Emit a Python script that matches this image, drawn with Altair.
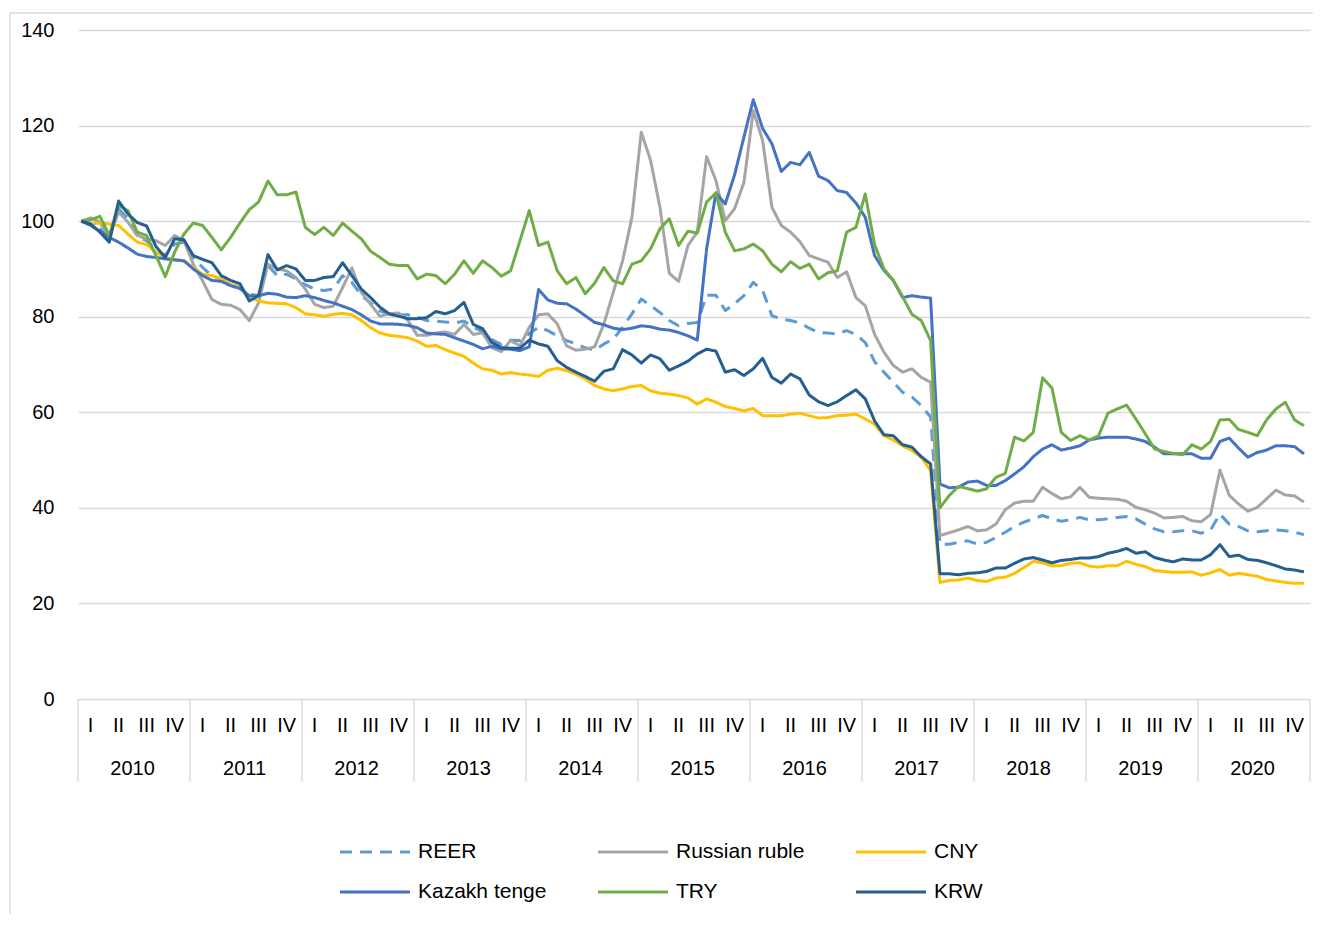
import altair as alt
import pandas as pd

# ---------------- data (monthly index, Jan 2010 = 100) ----------------
years = [str(y) for y in range(2010, 2021)]
quarters = ["I", "II", "III", "IV"]
series_names = ["REER", "Russian ruble", "CNY", "Kazakh tenge", "TRY", "KRW"]
series_colors = ["#5B9BD5", "#A5A5A5", "#FFC000", "#4472C4", "#70AD47", "#255E91"]
series_dashes = [[12, 8], [1, 0], [1, 0], [1, 0], [1, 0], [1, 0]]

reer = [
    100, 99.4, 98.4, 97.0, 102.6, 100.5, 96.8, 95.9, 94.0, 92.8, 95.2, 95.6, 92.4, 90.3, 88.6, 87.9, 86.8, 86.1, 84.7, 84.4, 90.7, 88.6, 88.9,
    87.9, 86.7, 85.8, 85.5, 85.8, 88.6, 87.2, 84.4, 82.9, 81.2, 80.6, 80.4, 80.4, 79.9, 79.2, 79.1, 78.9, 78.7, 79.1, 77.8, 76.9, 75.2, 74.2,
    75.1, 75.0, 76.5, 77.8, 77.1, 76.0, 75.0, 74.3, 73.5, 73.0, 74.3, 75.3, 77.8, 80.6, 83.7, 82.3, 80.9, 79.2, 78.1, 78.6, 78.8, 84.5,
    84.5, 81.3, 82.7, 84.4, 87.2, 85.5, 80.2, 79.5, 79.2, 78.7, 77.6, 76.7, 76.6, 76.4, 77.1, 76.3, 74.6, 70.6,
    68.4, 66.3, 64.2, 63.2, 61.4, 59.0, 32.4, 32.4, 32.8, 33.1, 32.4, 32.8, 33.8, 34.9, 36.1, 37.0,
    37.7, 38.4, 37.7, 37.2, 37.5, 38.0, 37.5, 37.5, 37.7, 38.0, 38.2, 37.7, 36.6, 35.6, 35.0, 35.0, 35.2, 35.2, 34.7, 35.4,
    38.7, 36.6, 36.1, 35.2, 35.0, 35.2, 35.4, 35.2, 34.9, 34.4,
]

ruble = [
    100, 100.7, 99.8, 96.6, 101.9, 99.8, 97.0, 96.3, 95.9, 94.9, 97.0, 95.9, 91.0, 87.5, 83.6, 82.6, 82.4, 81.5, 79.2, 82.9, 91.0, 90.0, 89.6,
    88.2, 85.8, 82.6, 81.9, 82.2, 86.1, 90.2, 85.1, 82.6, 80.1, 80.6, 80.8, 79.2, 76.1, 76.1, 76.6, 76.8, 76.3, 78.4, 76.3, 76.6, 73.5, 72.7,
    75.0, 73.9, 77.8, 80.4, 80.6, 78.5, 73.9, 73.0, 73.2, 73.7, 78.5, 85.1, 91.7, 100.8, 118.6, 112.7, 102.9, 89.1, 87.4, 94.9, 97.7, 113.5,
    108.5, 100.1, 102.6, 108.1, 123.1, 116.9, 102.9, 99.1, 97.7, 95.7, 92.8, 92.1, 91.4, 88.2, 89.4, 84.0, 82.3, 76.3,
    72.6, 69.8, 68.4, 69.1, 67.3, 66.3, 34.2, 34.8, 35.4, 36.1, 35.2, 35.4, 36.6, 39.6, 41.0, 41.4,
    41.4, 44.3, 43.0, 41.9, 42.3, 44.3, 42.2, 42.0, 41.9, 41.8, 41.4, 40.1, 39.6, 38.9, 37.9, 38.0, 38.2, 37.3, 37.1, 38.6,
    47.9, 42.6, 40.8, 39.3, 40.1, 41.9, 43.7, 42.7, 42.5, 41.2,
]

cny = [
    100, 99.4, 99.6, 99.4, 99.1, 97.3, 95.6, 95.1, 93.5, 92.4, 91.9, 91.7, 90.3, 88.9, 88.6, 87.9, 86.8, 86.1, 84.1, 83.3, 82.9, 82.8, 82.7,
    81.9, 80.6, 80.4, 80.1, 80.5, 80.7, 80.4, 79.2, 77.7, 76.6, 76.1, 75.9, 75.6, 74.9, 73.8, 74.0, 73.1, 72.4, 71.7, 70.3, 69.1, 68.8, 68.0,
    68.3, 68.0, 67.8, 67.5, 68.8, 69.2, 68.7, 68.0, 67.0, 65.6, 64.9, 64.5, 64.9, 65.4, 65.6, 64.5, 64.0, 63.8, 63.5, 63.0, 61.7, 62.8,
    62.1, 61.2, 60.8, 60.3, 60.8, 59.3, 59.3, 59.3, 59.6, 59.8, 59.3, 58.8, 58.9, 59.3, 59.4, 59.6, 58.6, 57.5,
    55.1, 54.2, 53.0, 52.0, 50.6, 47.8, 24.4, 24.8, 24.9, 25.3, 24.8, 24.6, 25.3, 25.5, 26.3, 27.5,
    28.8, 28.5, 27.9, 27.9, 28.4, 28.5, 27.8, 27.6, 27.9, 27.9, 28.8, 28.2, 27.7, 26.9, 26.7, 26.5, 26.5, 26.6, 25.9, 26.4,
    27.1, 25.9, 26.3, 26.0, 25.7, 25.0, 24.7, 24.4, 24.2, 24.2,
]

tenge = [
    100, 99.1, 97.9, 96.6, 95.6, 94.4, 93.1, 92.6, 92.4, 92.1, 91.9, 91.7, 90.0, 88.6, 87.6, 87.4, 86.5, 85.9, 84.4, 84.4, 84.9, 84.7, 84.1,
    84.0, 84.4, 84.0, 83.4, 82.9, 82.2, 81.5, 80.4, 79.1, 78.5, 78.5, 78.4, 78.2, 77.7, 76.6, 76.4, 76.3, 75.6, 74.9, 74.2, 73.3, 73.8, 73.3,
    73.2, 72.9, 73.7, 85.7, 83.5, 82.8, 82.7, 81.6, 80.2, 78.8, 78.3, 77.6, 77.3, 77.6, 78.1, 77.9, 77.4, 77.2, 76.7, 76.0, 75.1, 94.2,
    105.9, 103.6, 109.7, 117.6, 125.4, 119.4, 116.2, 110.4, 112.3, 111.8, 114.4, 109.4, 108.5, 106.4, 106.0, 103.8, 100.8, 92.8,
    89.7, 87.6, 84.0, 84.4, 84.1, 83.9, 45.0, 44.2, 44.3, 45.4, 45.6, 44.7, 44.7, 45.7, 47.1, 48.6,
    50.7, 52.3, 53.2, 52.1, 52.5, 53.0, 54.2, 54.6, 54.8, 54.8, 54.8, 54.4, 53.9, 52.7, 51.3, 51.3, 51.3, 51.3, 50.4, 50.4,
    53.9, 54.6, 52.5, 50.6, 51.6, 52.1, 53.0, 53.0, 52.8, 51.3,
]

lira = [
    100, 100.3, 101.0, 97.0, 103.3, 102.2, 97.7, 97.0, 92.8, 88.4, 93.5, 97.3, 99.6, 99.1, 96.6, 94.0, 96.6, 99.6, 102.4, 104.0, 108.4, 105.5, 105.5,
    106.1, 98.7, 97.2, 98.7, 97.0, 99.6, 97.9, 96.3, 93.7, 92.4, 91.0, 90.7, 90.7, 87.9, 88.9, 88.6, 86.9, 88.9, 91.7, 89.1, 91.7, 90.3, 88.5,
    89.6, 95.9, 102.2, 94.9, 95.6, 89.6, 86.9, 88.2, 84.8, 87.0, 90.3, 87.5, 86.9, 91.0, 91.7, 94.2, 98.4, 100.5, 94.9, 97.9, 97.5, 104.0,
    105.9, 97.7, 93.8, 94.2, 95.2, 93.8, 91.0, 89.4, 91.5, 90.1, 91.0, 87.9, 89.2, 89.6, 97.7, 98.7, 105.7, 95.1,
    90.0, 87.6, 84.2, 80.5, 79.2, 75.0, 40.0, 42.6, 44.5, 44.0, 43.5, 44.0, 46.4, 47.2, 54.8, 54.0,
    55.8, 67.2, 65.1, 55.8, 54.1, 55.1, 54.2, 55.1, 59.8, 60.7, 61.5, 58.6, 55.5, 52.3, 51.8, 51.4, 51.1, 53.2, 52.3, 53.9,
    58.4, 58.5, 56.4, 55.8, 55.1, 58.4, 60.7, 62.1, 58.4, 57.2,
]

krw = [
    100, 99.4, 97.7, 95.6, 104.2, 101.5, 99.7, 99.0, 94.7, 92.4, 96.3, 96.1, 92.8, 92.0, 91.3, 88.6, 87.6, 86.9, 83.3, 84.4, 93.0, 89.8, 90.7,
    90.0, 87.6, 87.6, 88.2, 88.4, 91.3, 88.6, 85.8, 84.0, 82.0, 80.6, 80.1, 79.6, 79.6, 79.8, 81.1, 80.6, 81.3, 83.0, 78.4, 77.5, 74.6, 73.5,
    73.4, 73.4, 75.1, 74.3, 73.8, 70.8, 69.4, 68.4, 67.5, 66.5, 68.6, 69.1, 73.1, 72.0, 70.3, 72.0, 71.2, 68.8, 69.7, 70.7, 72.2, 73.2,
    72.8, 68.4, 68.9, 67.7, 69.1, 71.3, 67.3, 66.1, 68.0, 67.0, 63.6, 62.2, 61.4, 62.2, 63.5, 64.7, 62.8, 58.2,
    55.3, 55.1, 53.2, 52.7, 50.7, 49.2, 26.2, 26.2, 26.0, 26.3, 26.4, 26.7, 27.4, 27.4, 28.4, 29.3,
    29.6, 29.1, 28.5, 29.0, 29.2, 29.5, 29.5, 29.8, 30.5, 30.9, 31.5, 30.5, 30.8, 29.6, 29.1, 28.7, 29.3, 29.1, 29.1, 30.2,
    32.3, 29.8, 30.1, 29.2, 29.0, 28.5, 27.9, 27.2, 27.0, 26.6,
]

all_series = [reer, ruble, cny, tenge, lira, krw]
n_months = 12 * len(years)
for s in all_series:
    assert len(s) == n_months, len(s)

rows = []
for name, vals in zip(series_names, all_series):
    for i, v in enumerate(vals):
        rows.append({"month": i, "series": name, "value": v})
df = pd.DataFrame(rows)

quarter_rows = []
for k, y in enumerate(years):
    for q, ql in enumerate(quarters):
        quarter_rows.append({"pos": 12 * k + 3 * q + 1, "label": ql})
df_q = pd.DataFrame(quarter_rows)
df_y = pd.DataFrame({"pos": [12 * k + 5.5 for k in range(len(years))], "label": years})
df_sep = pd.DataFrame({"pos": [12 * k - 0.35 for k in range(len(years) + 1)]})
df_one = pd.DataFrame({"a": [0]})

# ---------------- chart ----------------
W, H = 1232, 669
FONT = "Liberation Sans"
GRID = "#D9D9D9"

xscale = alt.Scale(domain=[-0.35, n_months - 0.35], nice=False, zero=False)
yscale = alt.Scale(domain=[0, 140], nice=False)

color_enc = alt.Color("series:N", scale=alt.Scale(domain=series_names, range=series_colors), legend=None)
dash_enc = alt.StrokeDash("series:N", scale=alt.Scale(domain=series_names, range=series_dashes), legend=None)

yaxis = alt.Axis(values=list(range(0, 141, 20)), grid=True, gridColor=GRID, gridWidth=1.3,
                 domain=False, ticks=False, labelFont=FONT, labelFontSize=20,
                 labelColor="#000000", labelPadding=24, title=None)

line_layers = []
for name in series_names:
    line_layers.append(
        alt.Chart(df).transform_filter(alt.datum.series == name)
        .mark_line(strokeWidth=3, strokeJoin="round")
        .encode(
            x=alt.X("month:Q", scale=xscale, axis=None),
            y=alt.Y("value:Q", scale=yscale, axis=yaxis),
            color=color_enc,
            strokeDash=dash_enc,
        )
    )

quarter_text = alt.Chart(df_q).mark_text(font=FONT, fontSize=20, baseline="middle", color="#000000").encode(
    x=alt.X("pos:Q", scale=xscale, axis=None), y=alt.value(H + 27), text="label:N")
year_text = alt.Chart(df_y).mark_text(font=FONT, fontSize=20, baseline="middle", color="#000000").encode(
    x=alt.X("pos:Q", scale=xscale, axis=None), y=alt.value(H + 70), text="label:N")
separators = alt.Chart(df_sep).mark_rule(color=GRID, strokeWidth=1.3).encode(
    x=alt.X("pos:Q", scale=xscale, axis=None), y=alt.value(H), y2=alt.value(H + 83))

border_top = alt.Chart(df_one).mark_rule(color=GRID, strokeWidth=1.3).encode(
    x=alt.value(-68), x2=alt.value(W + 40), y=alt.value(-17))
border_left = alt.Chart(df_one).mark_rule(color=GRID, strokeWidth=1.3).encode(
    x=alt.value(-68), y=alt.value(-17), y2=alt.value(H + 260))

# manual legend (3 columns x 2 rows, filled row by row)
LEG_X0, LEG_COL, LEG_Y0, LEG_ROW, SYM_LEN, LBL_GAP = 262, 258, 822, 40, 70, 8
legend_layers = []
for k, name in enumerate(series_names):
    col, row = k % 3, k // 3
    lx = LEG_X0 + col * LEG_COL
    ly = LEG_Y0 + row * LEG_ROW
    legend_layers.append(
        alt.Chart(df_one).mark_rule(strokeWidth=3, color=series_colors[k],
                                    strokeDash=series_dashes[k]).encode(
            x=alt.value(lx), x2=alt.value(lx + SYM_LEN), y=alt.value(ly))
    )
    legend_layers.append(
        alt.Chart(df_one).mark_text(font=FONT, fontSize=21, align="left", baseline="middle",
                                    color="#000000", text=name).encode(
            x=alt.value(lx + SYM_LEN + LBL_GAP), y=alt.value(ly))
    )

chart = alt.layer(
    border_top, border_left, separators, quarter_text, year_text, *line_layers, *legend_layers
).properties(
    width=W, height=H,
    autosize=alt.AutoSizeParams(type="none"),
    padding={"left": 70, "top": 22, "right": 3, "bottom": 215},
    background="#FFFFFF",
).configure_view(stroke=None)

chart.save("out.html", embed_options={"renderer": "svg", "actions": False})
